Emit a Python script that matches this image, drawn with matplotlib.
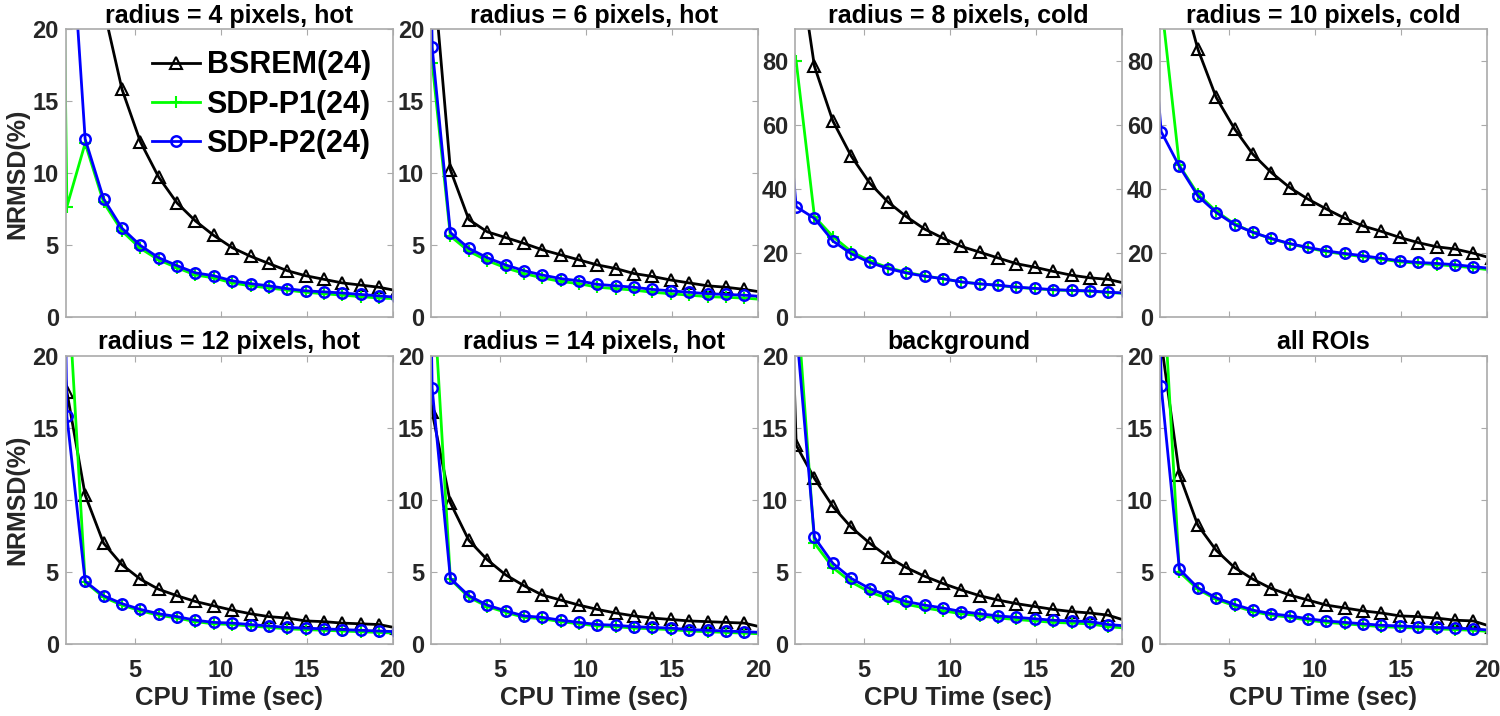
import numpy as np
import matplotlib.pyplot as plt

plt.rcParams["font.family"] = ["Liberation Sans", "DejaVu Sans"]
plt.rcParams["font.weight"] = "bold"

# CPU time at each outer iteration (same for all methods)
cpu_time = [0.0, 1.07, 2.13, 3.2, 4.27, 5.34, 6.4, 7.47, 8.54, 9.6,
            10.67, 11.74, 12.8, 13.87, 14.94, 16.0, 17.07, 18.14, 19.2, 20.27]

titles = ["radius = 4 pixels, hot", "radius = 6 pixels, hot",
          "radius = 8 pixels, cold", "radius = 10 pixels, cold",
          "radius = 12 pixels, hot", "radius = 14 pixels, hot",
          "background", "all ROIs"]
ymax = [20, 20, 90, 90, 20, 20, 20, 20]
labels = ["BSREM(24)", "SDP-P1(24)", "SDP-P2(24)"]

# NRMSD (%) per panel
bsrem = [
    [100, 45, 30, 21.5, 15.85, 12.2, 9.75, 7.95, 6.7, 5.7, 4.85, 4.25, 3.75, 3.25, 2.9, 2.65, 2.4, 2.25, 2.1, 1.85],
    [100, 25, 10.25, 6.8, 5.95, 5.55, 5.15, 4.7, 4.35, 4.0, 3.65, 3.4, 3.05, 2.85, 2.6, 2.4, 2.2, 2.1, 1.95, 1.75],
    [200, 117, 78.5, 61.4, 50.4, 42.0, 36.1, 31.5, 27.6, 24.8, 22.2, 20.4, 18.6, 16.8, 15.7, 14.4, 13.2, 12.4, 11.9, 10.6],
    [200, 150, 105, 83.9, 68.75, 58.9, 51.0, 45.3, 40.6, 37.0, 33.9, 31.0, 28.6, 26.9, 25.0, 23.4, 22.1, 21.4, 20.1, 18.5],
    [30, 17.5, 10.35, 7.0, 5.5, 4.5, 3.8, 3.35, 2.95, 2.65, 2.35, 2.1, 1.9, 1.8, 1.6, 1.55, 1.45, 1.4, 1.35, 1.1],
    [30, 16.1, 9.8, 7.2, 5.85, 4.8, 4.05, 3.4, 3.05, 2.7, 2.4, 2.15, 1.95, 1.8, 1.7, 1.6, 1.55, 1.5, 1.45, 1.15],
    [55, 13.8, 11.5, 9.55, 8.1, 7.0, 6.05, 5.3, 4.7, 4.2, 3.75, 3.35, 3.05, 2.8, 2.6, 2.4, 2.25, 2.15, 2.0, 1.6],
    [100, 21, 11.75, 8.25, 6.5, 5.3, 4.5, 3.85, 3.4, 3.05, 2.7, 2.5, 2.3, 2.15, 1.95, 1.9, 1.8, 1.65, 1.6, 1.2],
]
sdp_p1 = [
    [108, 7.7, 12.1, 8.0, 6.0, 4.8, 4.0, 3.45, 2.95, 2.75, 2.4, 2.2, 2.05, 1.9, 1.75, 1.65, 1.55, 1.45, 1.35, 1.3],
    [100, 17.7, 5.65, 4.6, 3.95, 3.45, 3.05, 2.75, 2.5, 2.35, 2.1, 2.0, 1.9, 1.75, 1.65, 1.55, 1.45, 1.4, 1.35, 1.25],
    [100, 80.0, 31.5, 25.3, 20.6, 17.7, 15.6, 14.1, 13.0, 12.1, 11.1, 10.5, 10.0, 9.4, 9.0, 8.6, 8.4, 8.2, 7.8, 7.5],
    [200, 99, 47.5, 38.6, 33.2, 29.2, 26.6, 24.6, 23.0, 21.7, 20.6, 19.7, 19.0, 18.2, 17.4, 16.9, 16.5, 16.1, 15.5, 14.8],
    [100, 26.2, 4.3, 3.25, 2.7, 2.3, 2.0, 1.8, 1.55, 1.4, 1.35, 1.25, 1.15, 1.05, 1.0, 0.95, 0.9, 0.85, 0.8, 0.75],
    [100, 26, 4.5, 3.25, 2.6, 2.2, 1.85, 1.75, 1.55, 1.4, 1.25, 1.2, 1.1, 1.05, 1.0, 0.9, 0.85, 0.8, 0.75, 0.7],
    [100, 24.7, 7.0, 5.3, 4.3, 3.6, 3.15, 2.75, 2.5, 2.3, 2.1, 1.95, 1.8, 1.7, 1.6, 1.5, 1.45, 1.4, 1.2, 1.1],
    [100, 27.5, 5.0, 3.8, 3.1, 2.65, 2.25, 2.0, 1.85, 1.65, 1.5, 1.4, 1.3, 1.2, 1.15, 1.1, 1.05, 1.0, 0.95, 0.85],
]
sdp_p2 = [
    [100, 31.6, 12.4, 8.25, 6.2, 5.0, 4.15, 3.6, 3.1, 2.9, 2.55, 2.35, 2.2, 2.0, 1.85, 1.78, 1.7, 1.6, 1.5, 1.4],
    [100, 18.75, 5.9, 4.8, 4.15, 3.65, 3.25, 2.95, 2.7, 2.55, 2.3, 2.2, 2.1, 1.95, 1.85, 1.75, 1.65, 1.6, 1.55, 1.45],
    [100, 34.6, 31.0, 23.9, 19.9, 17.2, 15.3, 13.9, 12.9, 12.1, 11.1, 10.5, 10.1, 9.5, 9.1, 8.7, 8.5, 8.3, 7.9, 7.6],
    [130, 58.1, 47.2, 38.0, 32.8, 29.0, 26.6, 24.7, 23.1, 21.9, 20.8, 20.0, 19.3, 18.5, 17.7, 17.2, 16.9, 16.5, 15.9, 15.3],
    [100, 15.8, 4.35, 3.35, 2.8, 2.4, 2.1, 1.9, 1.65, 1.5, 1.45, 1.35, 1.25, 1.15, 1.1, 1.05, 1.0, 0.95, 0.9, 0.85],
    [100, 17.75, 4.55, 3.35, 2.7, 2.3, 1.95, 1.85, 1.65, 1.5, 1.35, 1.3, 1.2, 1.15, 1.1, 1.0, 0.95, 0.9, 0.85, 0.8],
    [100, 22, 7.4, 5.6, 4.55, 3.85, 3.35, 2.95, 2.7, 2.5, 2.25, 2.1, 1.95, 1.85, 1.75, 1.65, 1.6, 1.55, 1.35, 1.25],
    [100, 17.9, 5.2, 3.9, 3.2, 2.75, 2.35, 2.1, 1.95, 1.75, 1.6, 1.5, 1.4, 1.3, 1.25, 1.2, 1.15, 1.1, 1.05, 0.95],
]

fig = plt.figure(figsize=(15, 7.16), dpi=100)
lefts = [0.0438, 0.2873, 0.530, 0.7733]
bottoms = [0.5566, 0.1006]
w, h = 0.218, 0.4022

for i in range(8):
    row, col = divmod(i, 4)
    ax = fig.add_axes([lefts[col], bottoms[row], w, h])
    ax.plot(cpu_time, bsrem[i], "k-^", lw=2, ms=9, mfc="none", mew=1.5,
            label=labels[0])
    ax.plot(cpu_time, sdp_p1[i], "-+", color="#00ff00", lw=2, ms=8, mew=1.5,
            label=labels[1])
    ax.plot(cpu_time, sdp_p2[i], "-o", color="#0000ff", lw=2, ms=7.5, mfc="none",
            mew=1.8, label=labels[2])
    ax.set_xlim(1, 20)
    ax.set_ylim(0, ymax[i])
    ax.set_xticks([5, 10, 15, 20])
    if ymax[i] == 20:
        ax.set_yticks([0, 5, 10, 15, 20])
    else:
        ax.set_yticks([0, 20, 40, 60, 80])
    ax.tick_params(direction="in", top=True, right=True, length=4,
                   color="#aaaaaa", labelsize=17, labelcolor="#262626", pad=5)
    ax.tick_params(axis="x", pad=11)
    for s in ax.spines.values():
        s.set_color("#aaaaaa")
        s.set_linewidth(1.2)
    ax.set_title(titles[i], fontsize=18, fontweight="bold", pad=5)
    if row == 0:
        ax.set_xticklabels([])
    else:
        ax.set_xlabel("CPU Time (sec)", fontsize=18.5, fontweight="bold",
                      color="#262626", labelpad=3)
    if col == 0:
        ax.set_ylabel("NRMSD(%)", fontsize=18, fontweight="bold",
                      color="#262626", labelpad=2)
    if i == 0:
        ax.legend(loc="upper right", bbox_to_anchor=(0.97, 0.97),
                  frameon=False, fontsize=22, handlelength=1.6,
                  handletextpad=0.2, labelspacing=0.3, borderaxespad=0.0)

fig.savefig("out.png", dpi=100)
